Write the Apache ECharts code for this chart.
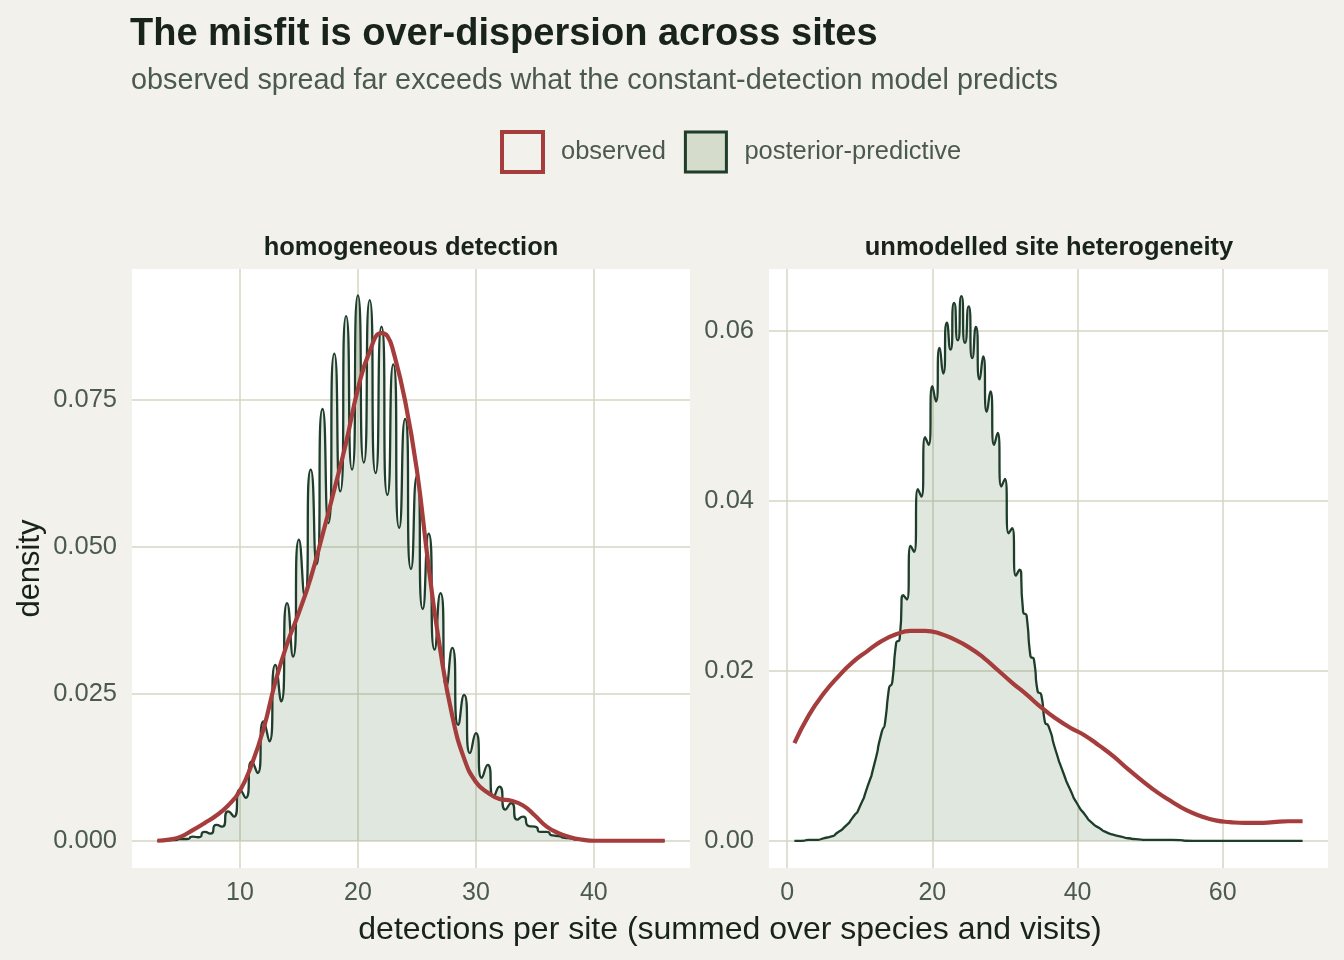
<!DOCTYPE html>
<html>
<head>
<meta charset="utf-8">
<script src="https://cdn.jsdelivr.net/npm/echarts@6/dist/echarts.min.js"></script>
<style>
  html, body { margin: 0; padding: 0; background: #f2f1eb; }
  #chart { width: 1344px; height: 960px; }
</style>
</head>
<body>
<div id="chart"></div>
<script>
// ---- data ----
const panelTitles = ['homogeneous detection', 'unmodelled site heterogeneity'];
const legendNames = ['observed', 'posterior-predictive'];

const leftXTicks = [10, 20, 30, 40];
const leftYTicks = [0, 0.025, 0.05, 0.075];
const rightXTicks = [0, 20, 40, 60];
const rightYTicks = [0, 0.02, 0.04, 0.06];

// homogeneous detection: posterior-predictive density [x, density]
const leftPosterior = [
  [3,0],[3.5,0],[4,0.0001],[4.5,0.0001],[5,0.0003],[5.5,0.0003],[6,0.0007],[6.5,0.0006],
  [7,0.0015],[7.5,0.0012],[8,0.0027],[8.5,0.0024],[9,0.0050],[9.5,0.0041],[10,0.0087],[10.5,0.0073],
  [11,0.0135],[11.5,0.0115],[12,0.0203],[12.5,0.0169],[13,0.0299],[13.5,0.0237],[14,0.0404],[14.5,0.0313],
  [15,0.0512],[15.5,0.0415],[16,0.0631],[16.5,0.0470],[17,0.0734],[17.5,0.0540],[18,0.0828],[18.5,0.0594],
  [19,0.0892],[19.5,0.0631],[20,0.0927],[20.5,0.0643],[21,0.0919],[21.5,0.0625],[22,0.0874],[22.5,0.0588],
  [23,0.0810],[23.5,0.0532],[24,0.0717],[24.5,0.0462],[25,0.0620],[25.5,0.0394],[26,0.0522],[26.5,0.0325],
  [27,0.0421],[27.5,0.0262],[28,0.0328],[28.5,0.0197],[29,0.0248],[29.5,0.0149],[30,0.0183],[30.5,0.0107],
  [31,0.0129],[31.5,0.0075],[32,0.0092],[32.5,0.0053],[33,0.0064],[33.5,0.0036],[34,0.0041],[34.5,0.0025],
  [35,0.0024],[35.5,0.0015],[36,0.0015],[36.5,0.0009],[37,0.0008],[37.5,0.0005],[38,0.0004],[38.5,0.0002],
  [39,0.0002],[39.5,0.0001],[40,0.0001],[41,0],[42,0],[43,0],[44,0],[45,0],[46,0]
];
// homogeneous detection: observed density
const leftObserved = [
  [3,0],[4,0.0002],[5,0.0007],[6,0.0018],[7,0.0030],[8,0.0043],[9,0.0060],[10,0.0085],
  [11,0.0130],[12,0.0190],[13,0.0270],[14,0.0335],[15,0.0388],[16,0.0447],[17,0.0520],[18,0.0597],
  [19,0.0677],[20,0.0768],[21,0.0832],[22,0.0863],[22.5,0.0858],[23,0.0832],[24,0.0748],[25,0.0630],
  [26,0.0465],[27,0.0322],[28,0.0212],[29,0.0140],[30,0.0100],[31,0.0082],[32,0.0071],[33,0.0068],
  [34,0.0060],[35,0.0043],[36,0.0024],[37,0.0013],[38,0.0006],[39,0.0002],[40,0],[42,0],[44,0],[46,0]
];
// unmodelled site heterogeneity: posterior-predictive density
const rightPosterior = [
  [1,0],[2,0],[3,0.0001],[4,0.0001],[5,0.0003],[6,0.0005],[7,0.0010],[8,0.0017],[9,0.0027],
  [10,0.0040],[11,0.0062],[12,0.0090],[13,0.0127],[13.5,0.0140],[14,0.0178],[14.5,0.0188],
  [15,0.0232],[15.5,0.0238],[16,0.0289],[16.5,0.0284],[17,0.0347],[17.5,0.0340],[18,0.0414],[18.5,0.0405],
  [19,0.0475],[19.5,0.0466],[20,0.0535],[20.5,0.0517],[21,0.0580],[21.5,0.0550],[22,0.0610],[22.5,0.0578],
  [23,0.0633],[23.5,0.0589],[24,0.0641],[24.5,0.0586],[25,0.0629],[25.5,0.0568],[26,0.0605],[26.5,0.0543],
  [27,0.0570],[27.5,0.0505],[28,0.0529],[28.5,0.0466],[29,0.0480],[29.5,0.0417],[30,0.0426],[30.5,0.0362],
  [31,0.0368],[31.5,0.0312],[32,0.0319],[32.5,0.0270],[33,0.0264],[33.5,0.0218],[34,0.0213],[34.5,0.0176],
  [35,0.0172],[35.5,0.0140],[36,0.0135],[37,0.0106],[38,0.0081],[39,0.0060],[40,0.0043],[41,0.0031],
  [42,0.0021],[43,0.0015],[44,0.0010],[45,0.0007],[46,0.0005],[47,0.0003],[48,0.0002],[50,0.0001],
  [53,0.0001],[56,0],[60,0],[65,0],[71,0]
];
// unmodelled site heterogeneity: observed density
const rightObserved = [
  [1,0.0115],[3,0.0148],[5,0.0173],[7,0.0193],[9,0.0210],[11,0.0223],[13,0.0235],[15,0.0243],
  [17,0.0247],[19,0.0247],[21,0.0244],[23,0.0237],[25,0.0228],[27,0.0216],[29,0.0201],[31,0.0186],
  [33,0.0172],[35,0.0157],[37,0.0144],[39,0.0133],[41,0.0124],[43,0.0112],[45,0.0099],[47,0.0084],
  [49,0.0070],[51,0.0057],[53,0.0046],[55,0.0036],[57,0.0029],[59,0.0024],[61,0.0022],[63,0.0021],
  [65,0.0021],[67,0.0022],[69,0.0023],[71,0.0023]
];

// ---- styling ----
const FONT = '"Liberation Sans", Arial, Helvetica, sans-serif';
const BG = '#f2f1eb';
const GRID = '#d4d5c3';
const RED = '#a63d3d';
const GREEN = '#1e3d2a';
const TICK = '#4b5a4e';
const INK = '#17231b';

function xAxisFor(gridIndex, min, max, ticks) {
  return {
    type: 'value', gridIndex, min, max,
    axisLine: { show: false },
    axisTick: { show: false, customValues: ticks },
    axisLabel: { customValues: ticks, color: TICK, fontSize: 25, fontFamily: FONT, margin: 13 },
    splitLine: { show: true, lineStyle: { color: GRID, width: 1.5 } }
  };
}
function yAxisFor(gridIndex, min, max, ticks, digits, name) {
  return {
    type: 'value', gridIndex, min, max,
    name: name || '', nameLocation: 'middle', nameRotate: 90, nameGap: 86,
    nameTextStyle: { color: INK, fontSize: 31, fontFamily: FONT },
    axisLine: { show: false },
    axisTick: { show: false, customValues: ticks },
    axisLabel: { customValues: ticks, color: TICK, fontSize: 25.5, fontFamily: FONT, margin: 15,
                 formatter: v => v.toFixed(digits) },
    splitLine: { show: true, lineStyle: { color: GRID, width: 1.5 } }
  };
}
function posteriorSeries(idx, data) {
  return {
    name: legendNames[1], type: 'line', xAxisIndex: idx, yAxisIndex: idx,
    data, smooth: 0.9, showSymbol: false, symbol: 'none',
    lineStyle: { color: GREEN, width: 2.3 },
    itemStyle: { color: '#d5dccb' },
    areaStyle: { color: '#3d6b35', opacity: 0.16 },
    z: 2
  };
}
function observedSeries(idx, data) {
  return {
    name: legendNames[0], type: 'line', xAxisIndex: idx, yAxisIndex: idx,
    data, smooth: 0.5, showSymbol: false, symbol: 'none',
    lineStyle: { color: RED, width: 4.2 },
    itemStyle: { color: BG },
    z: 3
  };
}

const chart = echarts.init(document.getElementById('chart'), null, { renderer: 'canvas' });
chart.setOption({
  backgroundColor: BG,
  animation: false,
  title: [
    { text: 'The misfit is over-dispersion across sites', left: 130, top: 16, padding: 0,
      textStyle: { fontSize: 38, fontWeight: 'bold', color: INK, fontFamily: FONT } },
    { text: 'observed spread far exceeds what the constant-detection model predicts', left: 131, top: 67, padding: 0,
      textStyle: { fontSize: 28.8, fontWeight: 'normal', color: TICK, fontFamily: FONT } },
    { text: panelTitles[0], left: 411, top: 235, textAlign: 'center', padding: 0,
      textStyle: { fontSize: 25.5, fontWeight: 'bold', color: INK, fontFamily: FONT } },
    { text: panelTitles[1], left: 1049, top: 235, textAlign: 'center', padding: 0,
      textStyle: { fontSize: 25.5, fontWeight: 'bold', color: INK, fontFamily: FONT } },
    { text: 'detections per site (summed over species and visits)', left: 730, top: 914, textAlign: 'center', padding: 0,
      textStyle: { fontSize: 32, fontWeight: 'normal', color: INK, fontFamily: FONT } }
  ],
  legend: {
    left: 500, top: 130, orient: 'horizontal', padding: 0,
    itemWidth: 41, itemHeight: 40, itemGap: 18,
    textStyle: { fontSize: 25.5, color: TICK, fontFamily: FONT, padding: [0, 0, 0, 13] },
    data: [
      { name: legendNames[0], icon: 'rect',
        itemStyle: { color: BG, borderColor: RED, borderWidth: 4 } },
      { name: legendNames[1], icon: 'rect',
        itemStyle: { color: '#d5dccb', borderColor: GREEN, borderWidth: 3 } }
    ]
  },
  grid: [
    { left: 132, top: 269, width: 558, height: 599, show: true, backgroundColor: '#ffffff', borderWidth: 0 },
    { left: 769, top: 269, width: 559, height: 599, show: true, backgroundColor: '#ffffff', borderWidth: 0 }
  ],
  xAxis: [
    xAxisFor(0, 0.85, 48.15, leftXTicks),
    xAxisFor(1, -2.5, 74.5, rightXTicks)
  ],
  yAxis: [
    yAxisFor(0, -0.00463, 0.0972, leftYTicks, 3, 'density'),
    yAxisFor(1, -0.0032, 0.0673, rightYTicks, 2, '')
  ],
  series: [
    posteriorSeries(0, leftPosterior),
    observedSeries(0, leftObserved),
    posteriorSeries(1, rightPosterior),
    observedSeries(1, rightObserved)
  ]
});
</script>
</body>
</html>
